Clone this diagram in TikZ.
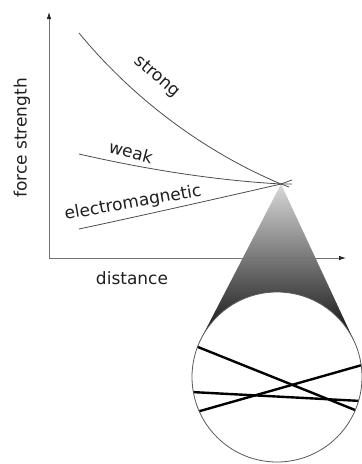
\documentclass[tikz,border=0pt]{standalone}
\usepackage{fontspec}
\setmainfont{DejaVu Sans}
\usetikzlibrary{arrows.meta}
\begin{document}
\begin{tikzpicture}[x=1pt,y=-1pt,
  axis/.style={draw=black!55,line width=0.8pt,-{Latex[length=7pt,width=4.5pt,color=black!85]}},
  forcecurve/.style={draw=black!70,line width=0.8pt},
  lbl/.style={font=\fontsize{17}{20}\selectfont,text=black!88,inner sep=0pt},
  track/.style={draw=black,line width=2.4pt},
]
\useasboundingbox (0,0) rectangle (362,464);
% key points
\coordinate (O) at (49,258);
\coordinate (ytop) at (49,12);
\coordinate (xend) at (346,258);
\coordinate (apex) at (281,184);
\coordinate (tl) at (201.3,338.2);
\coordinate (tr) at (353.9,340.5);
\coordinate (cc) at (277,377);
% magnifying cone
\shade[top color=black!15,middle color=black!60,bottom color=black!95] (apex) -- (tl) -- (tr) -- cycle;
\node[circle,fill=white,minimum size=170pt,inner sep=0pt,outer sep=0pt] (lens) at (cc) {};
% tracks inside the lens
\coordinate (a1) at (180,339.8); \coordinate (b1) at (380,420);
\coordinate (a2) at (180,391.4); \coordinate (b2) at (380,402);
\coordinate (a3) at (180,416.7); \coordinate (b3) at (380,359.9);
\begin{scope}
  \clip (cc) circle[radius=85];
  \draw[track] (a1) -- (b1);
  \draw[track] (a2) -- (b2);
  \draw[track] (a3) -- (b3);
\end{scope}
\draw[black!65,line width=0.8pt] (cc) circle[radius=85];
% axes
\draw[axis] (O) -- (ytop);
\draw[axis] (O) -- (xend);
% force curves
\coordinate (s0) at (79,33);
\coordinate (w0) at (79,154);
\coordinate (e0) at (79,229);
\coordinate (se) at (289,187);
\coordinate (we) at (292,184);
\coordinate (ee) at (292,180);
\draw[forcecurve] (s0) .. controls (130,95) and (200,150) .. (apex) -- (se);
\draw[forcecurve] (w0) .. controls (140,168) and (210,180) .. (apex) -- (we);
\draw[forcecurve] (e0) .. controls (140,216) and (220,198) .. (apex) -- (ee);
% labels
\node[lbl,rotate=-41] (ls) at (157,77) {strong};
\node[lbl,rotate=-15] (lw) at (131,152) {weak};
\node[lbl,rotate=10] (le) at (133,203) {electromagnetic};
\node[lbl,rotate=90] (ly) at (22,138) {force strength};
\node[lbl] (lx) at (132,278) {distance};
\end{tikzpicture}
\end{document}
